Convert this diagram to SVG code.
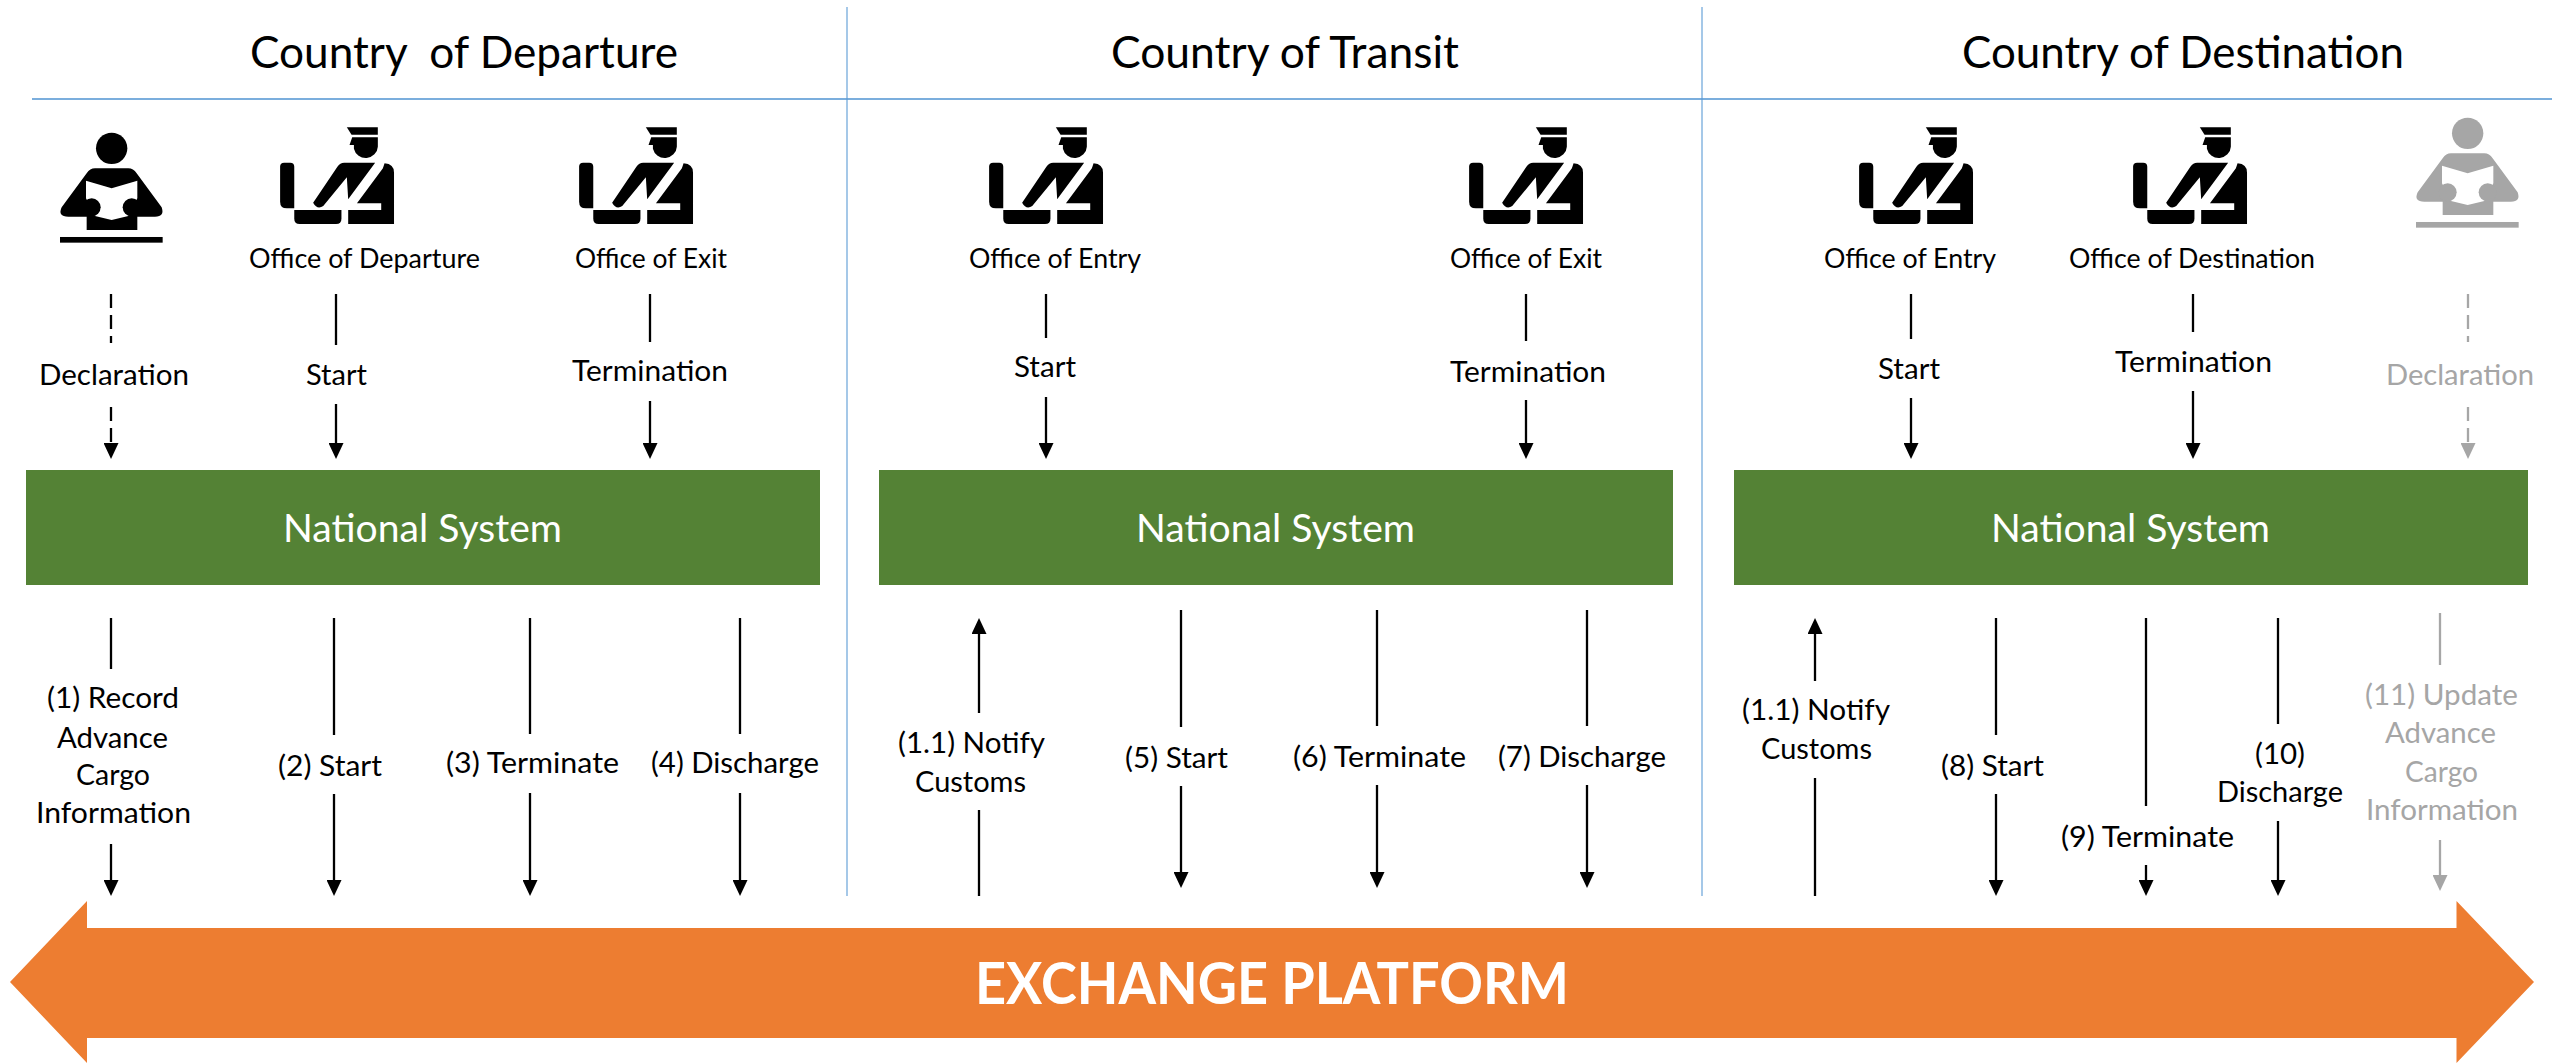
<svg xmlns="http://www.w3.org/2000/svg" width="2552" height="1063" viewBox="0 0 2552 1063">
<style>
text{font-family:Lato,"Open Sans","Liberation Sans",sans-serif;fill:#000}
.t{font-size:44px;white-space:pre}
.o{font-size:26px}
.l{font-size:28px}
.g{fill:#a6a6a6}
.n{font-size:38px;fill:#fff}
.x{font-size:57px;font-weight:700;fill:#fff}
.k{stroke:#000;stroke-width:2.3;fill:none}
.h{stroke:#a6a6a6;stroke-width:2.3;fill:none}
.d{stroke-dasharray:14 7}
.a{marker-end:url(#ak)}
.b{marker-end:url(#ag)}
.u{marker-start:url(#au)}
.s{fill:#548235}
.v{stroke:#5b9bd5;stroke-width:1.1}
</style>
<defs>
<filter id="soft" x="-5%" y="-5%" width="110%" height="110%"><feGaussianBlur stdDeviation="0.5"/></filter>
<marker id="ak" markerUnits="userSpaceOnUse" markerWidth="16" markerHeight="15" refX="6" refY="7.5" orient="auto"><path d="M0,0L16,7.5L0,15Z" fill="#000"/></marker>
<marker id="ag" markerUnits="userSpaceOnUse" markerWidth="16" markerHeight="15" refX="6" refY="7.5" orient="auto"><path d="M0,0L16,7.5L0,15Z" fill="#a6a6a6"/></marker>
<marker id="au" markerUnits="userSpaceOnUse" markerWidth="16" markerHeight="15" refX="10" refY="7.5" orient="auto"><path d="M16,0L0,7.5L16,15Z" fill="#000"/></marker>
<g id="officer">
<path d="M228,22H320V44H242Z"/>
<path d="M244,52H320V80A36,36 0 0 1 249,86V75H236Z"/>
<path d="M42,128H60Q72,128 72,140V265H50Q30,265 30,245V140Q30,128 42,128Z"/>
<path d="M220,128H312L232,238L228,172L158,258Q140,270 128,248L200,140Q208,128 220,128Z"/>
<path d="M340,130Q368,132 368,158V312H232V270H330V250H258L335,145Z"/>
<path d="M72,270H212V296Q212,312 196,312H88Q72,312 72,296Z"/>
</g>
<g id="reader">
<circle cx="185" cy="85" r="47"/>
<path d="M135,145H235Q250,145 260,160L335,262Q345,290 315,290H262V330H110V290H55Q22,290 35,262L110,160Q120,145 135,145Z"/>
<path d="M108,182L185,205L262,182V235L235,288L185,300L135,288L108,235Z" fill="#fff"/>
<circle cx="125" cy="262" r="27"/>
<circle cx="245" cy="262" r="27"/>
<rect x="30" y="351" width="308" height="17"/>
</g>
</defs>
<rect width="2552" height="1063" fill="#fff"/>

<g id="dividers">
<line class="v" x1="847" y1="7" x2="847" y2="896"/>
<line class="v" x1="1702" y1="7" x2="1702" y2="896"/>
<line x1="32" y1="99" x2="2552" y2="99" stroke="#5b9bd5" stroke-width="2" opacity=".8"/>
</g>

<g id="titles">
<text class="t" x="250" y="68" textLength="428" lengthAdjust="spacingAndGlyphs">Country  of Departure</text>
<text class="t" x="1111" y="68" textLength="348" lengthAdjust="spacingAndGlyphs">Country of Transit</text>
<text class="t" x="1962" y="68" textLength="442" lengthAdjust="spacingAndGlyphs">Country of Destination</text>
</g>

<g id="platform">
<polygon points="10,982 87,901 87,928 2456.5,928 2456.5,901 2534,982 2456.5,1063 2456.5,1038 87,1038 87,1063" fill="#ed7d31"/>
<text class="x" x="975" y="1004" textLength="594" lengthAdjust="spacingAndGlyphs">EXCHANGE PLATFORM</text>
</g>

<g id="system-departure"><rect class="s" x="26" y="470" width="794" height="115"/><text class="n" x="283" y="542" textLength="279" lengthAdjust="spacingAndGlyphs">National System</text></g>
<g id="system-transit"><rect class="s" x="879" y="470" width="794" height="115"/><text class="n" x="1136" y="542" textLength="279" lengthAdjust="spacingAndGlyphs">National System</text></g>
<g id="system-destination"><rect class="s" x="1734" y="470" width="794" height="115"/><text class="n" x="1991" y="542" textLength="279" lengthAdjust="spacingAndGlyphs">National System</text></g>

<g id="declarant-departure" filter="url(#soft)"><use href="#reader" transform="translate(50,120) scale(.3333)"/></g>
<g id="office-departure"><use href="#officer" filter="url(#soft)" transform="translate(270,120) scale(.337 .3333)"/><text class="o" x="249" y="268" textLength="231" lengthAdjust="spacingAndGlyphs">Office of Departure</text></g>
<g id="office-exit-departure"><use href="#officer" filter="url(#soft)" transform="translate(569,120) scale(.337 .3333)"/><text class="o" x="575" y="268" textLength="152" lengthAdjust="spacingAndGlyphs">Office of Exit</text></g>
<g id="office-entry-transit"><use href="#officer" filter="url(#soft)" transform="translate(979,120) scale(.337 .3333)"/><text class="o" x="969" y="268" textLength="172" lengthAdjust="spacingAndGlyphs">Office of Entry</text></g>
<g id="office-exit-transit"><use href="#officer" filter="url(#soft)" transform="translate(1459,120) scale(.337 .3333)"/><text class="o" x="1450" y="268" textLength="152" lengthAdjust="spacingAndGlyphs">Office of Exit</text></g>
<g id="office-entry-destination"><use href="#officer" filter="url(#soft)" transform="translate(1849,120) scale(.337 .3333)"/><text class="o" x="1824" y="268" textLength="172" lengthAdjust="spacingAndGlyphs">Office of Entry</text></g>
<g id="office-destination"><use href="#officer" filter="url(#soft)" transform="translate(2123,120) scale(.337 .3333)"/><text class="o" x="2069" y="268" textLength="246" lengthAdjust="spacingAndGlyphs">Office of Destination</text></g>
<g id="declarant-destination" filter="url(#soft)" fill="#a6a6a6"><use href="#reader" transform="translate(2406,105) scale(.3333)"/></g>

<g id="connectors">
<path class="k d" d="M111,294V343"/><path class="k d a" d="M111,407V449"/>
<path class="k" d="M336,294V345"/><path class="k a" d="M336,404V449"/>
<path class="k" d="M650,294V342"/><path class="k a" d="M650,401V449"/>
<path class="k" d="M1046,294V338"/><path class="k a" d="M1046,397V449"/>
<path class="k" d="M1526,294V341"/><path class="k a" d="M1526,400V449"/>
<path class="k" d="M1911,294V339"/><path class="k a" d="M1911,398V449"/>
<path class="k" d="M2193,294V332"/><path class="k a" d="M2193,391V449"/>
<path class="h d" d="M2468,294V342"/><path class="h d b" d="M2468,407V449"/>

<path class="k" d="M111,618V669"/><path class="k a" d="M111,844V886"/>
<path class="k" d="M334,618V735"/><path class="k a" d="M334,794V886"/>
<path class="k" d="M530,618V734"/><path class="k a" d="M530,793V886"/>
<path class="k" d="M740,618V734"/><path class="k a" d="M740,793V886"/>

<path class="k u" d="M979,628V713"/><path class="k" d="M979,810V896"/>
<path class="k" d="M1181,610V727"/><path class="k a" d="M1181,786V878"/>
<path class="k" d="M1377,610V726"/><path class="k a" d="M1377,785V878"/>
<path class="k" d="M1587,610V726"/><path class="k a" d="M1587,785V878"/>

<path class="k u" d="M1815,628V681"/><path class="k" d="M1815,778V896"/>
<path class="k" d="M1996,618V735"/><path class="k a" d="M1996,794V886"/>
<path class="k" d="M2146,618V806"/><path class="k a" d="M2146,865V886"/>
<path class="k" d="M2278,618V724"/><path class="k a" d="M2278,821V886"/>
<path class="h" d="M2440,613V665"/><path class="h b" d="M2440,840V881"/>

<text class="l" x="39" y="385" textLength="150" lengthAdjust="spacingAndGlyphs">Declaration</text>
<text class="l" x="306" y="385" textLength="61" lengthAdjust="spacingAndGlyphs">Start</text>
<text class="l" x="572" y="381" textLength="156" lengthAdjust="spacingAndGlyphs">Termination</text>
<text class="l" x="1014" y="377" textLength="62" lengthAdjust="spacingAndGlyphs">Start</text>
<text class="l" x="1450" y="382" textLength="156" lengthAdjust="spacingAndGlyphs">Termination</text>
<text class="l" x="1878" y="379" textLength="62" lengthAdjust="spacingAndGlyphs">Start</text>
<text class="l" x="2115" y="372" textLength="157" lengthAdjust="spacingAndGlyphs">Termination</text>
<text class="l g" x="2386" y="385" textLength="148" lengthAdjust="spacingAndGlyphs">Declaration</text>

<text class="l" x="47" y="708" textLength="132" lengthAdjust="spacingAndGlyphs">(1) Record</text>
<text class="l" x="57" y="748" textLength="111" lengthAdjust="spacingAndGlyphs">Advance</text>
<text class="l" x="76" y="785" textLength="74" lengthAdjust="spacingAndGlyphs">Cargo</text>
<text class="l" x="36" y="823" textLength="155" lengthAdjust="spacingAndGlyphs">Information</text>
<text class="l" x="278" y="776" textLength="104" lengthAdjust="spacingAndGlyphs">(2) Start</text>
<text class="l" x="446" y="773" textLength="173" lengthAdjust="spacingAndGlyphs">(3) Terminate</text>
<text class="l" x="651" y="773" textLength="168" lengthAdjust="spacingAndGlyphs">(4) Discharge</text>

<text class="l" x="898" y="753" textLength="147" lengthAdjust="spacingAndGlyphs">(1.1) Notify</text>
<text class="l" x="915" y="792" textLength="111" lengthAdjust="spacingAndGlyphs">Customs</text>
<text class="l" x="1125" y="768" textLength="103" lengthAdjust="spacingAndGlyphs">(5) Start</text>
<text class="l" x="1293" y="767" textLength="173" lengthAdjust="spacingAndGlyphs">(6) Terminate</text>
<text class="l" x="1498" y="767" textLength="168" lengthAdjust="spacingAndGlyphs">(7) Discharge</text>

<text class="l" x="1742" y="720" textLength="148" lengthAdjust="spacingAndGlyphs">(1.1) Notify</text>
<text class="l" x="1761" y="759" textLength="111" lengthAdjust="spacingAndGlyphs">Customs</text>
<text class="l" x="1941" y="776" textLength="103" lengthAdjust="spacingAndGlyphs">(8) Start</text>
<text class="l" x="2061" y="847" textLength="173" lengthAdjust="spacingAndGlyphs">(9) Terminate</text>
<text class="l" x="2255" y="764" textLength="50" lengthAdjust="spacingAndGlyphs">(10)</text>
<text class="l" x="2217" y="802" textLength="126" lengthAdjust="spacingAndGlyphs">Discharge</text>
<text class="l g" x="2365" y="705" textLength="153" lengthAdjust="spacingAndGlyphs">(11) Update</text>
<text class="l g" x="2385" y="743" textLength="111" lengthAdjust="spacingAndGlyphs">Advance</text>
<text class="l g" x="2405" y="782" textLength="73" lengthAdjust="spacingAndGlyphs">Cargo</text>
<text class="l g" x="2366" y="820" textLength="152" lengthAdjust="spacingAndGlyphs">Information</text>
</g>
</svg>
